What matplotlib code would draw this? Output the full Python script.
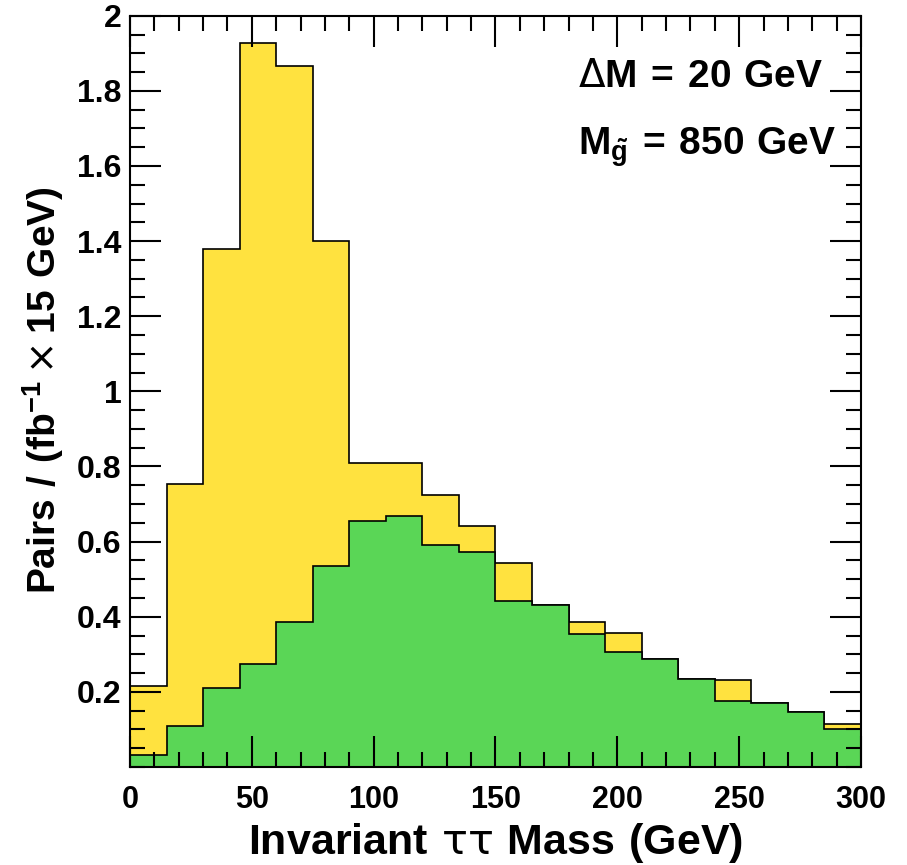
import numpy as np
import matplotlib
matplotlib.use('agg')
from matplotlib import pyplot as plt

# bin edges of the tau-tau mass histogram (GeV)
bin_edges = [0, 15, 30, 45, 60, 75, 90, 105, 120, 135, 150,
             165, 180, 195, 210, 225, 240, 255, 270, 285, 300]

# yellow: all pairs, green: the other component (drawn on top)
yellow_vals = [0.216, 0.753, 1.378, 1.928, 1.866, 1.400, 0.808, 0.810, 0.725, 0.642,
               0.542, 0.430, 0.385, 0.358, 0.287, 0.234, 0.232, 0.171, 0.147, 0.114]
green_vals = [0.032, 0.109, 0.211, 0.274, 0.387, 0.536, 0.655, 0.669, 0.590, 0.573,
              0.442, 0.430, 0.353, 0.305, 0.287, 0.234, 0.177, 0.171, 0.147, 0.101]

ytick_vals = [0.2, 0.4, 0.6, 0.8, 1.0, 1.2, 1.4, 1.6, 1.8, 2.0]
ytick_labels = ['0.2', '0.4', '0.6', '0.8', '1', '1.2', '1.4', '1.6', '1.8', '2']
xtick_vals = [0, 50, 100, 150, 200, 250, 300]

yellow = '#FFE23F'
green = '#5AD656'

plt.rcParams['font.family'] = ['Liberation Sans', 'DejaVu Sans']
# thin greek / symbols like the original, bold for the words
plt.rcParams['mathtext.fontset'] = 'custom'
plt.rcParams['mathtext.rm'] = 'DejaVu Sans'
plt.rcParams['mathtext.it'] = 'DejaVu Sans:italic'
plt.rcParams['mathtext.bf'] = 'Liberation Sans:bold'

fig = plt.figure(figsize=(9.07, 8.65), dpi=100)
ax = fig.add_axes([0.1433, 0.1133, 0.806, 0.8685])

ax.stairs(yellow_vals, bin_edges, fill=True, color=yellow, lw=0)
ax.stairs(yellow_vals, bin_edges, color='black', lw=1.2)
ax.stairs(green_vals, bin_edges, fill=True, color=green, lw=0)
ax.stairs(green_vals, bin_edges, color='black', lw=1.2)

ax.set_xlim(0, 300)
ax.set_ylim(0, 2)

ax.set_xticks(xtick_vals)
ax.set_xticks(np.arange(0, 301, 10), minor=True)
ax.set_yticks(ytick_vals)
ax.set_yticklabels(ytick_labels)
ax.set_yticks(np.arange(0, 2.01, 0.05), minor=True)

ax.tick_params(which='both', direction='in', top=True, right=True, width=1.5, color='black')
ax.tick_params(which='major', length=22)
ax.tick_params(which='minor', length=11)
ax.tick_params(axis='x', which='major', labelsize=22, pad=13)
ax.tick_params(axis='y', which='major', labelsize=23, pad=6)
for lab in ax.get_xticklabels() + ax.get_yticklabels():
    lab.set_fontweight('bold')
for s in ax.spines.values():
    s.set_linewidth(1.5)

ax.set_xlabel(r'$\mathbf{Invariant}\ \mathrm{\tau\tau}\ \mathbf{Mass\ (GeV)}$', fontsize=31)
ax.xaxis.set_label_coords(0.5, -0.072)
ax.set_ylabel(r'$\mathbf{Pairs\ /\ (fb^{-1}}\times\mathbf{15\ GeV)}$', fontsize=28)
ax.yaxis.set_label_coords(-0.088, 0.502)

ax.text(0.613, 0.905, r'$\Delta\mathbf{M\,=\,20\ GeV}$', transform=ax.transAxes,
        fontsize=28, ha='left', va='baseline')
ax.text(0.613, 0.815, r'$\mathbf{M_{\tilde{g}}\,=\,850\ GeV}$', transform=ax.transAxes,
        fontsize=28, ha='left', va='baseline')

plt.savefig('out.png', dpi=100)
